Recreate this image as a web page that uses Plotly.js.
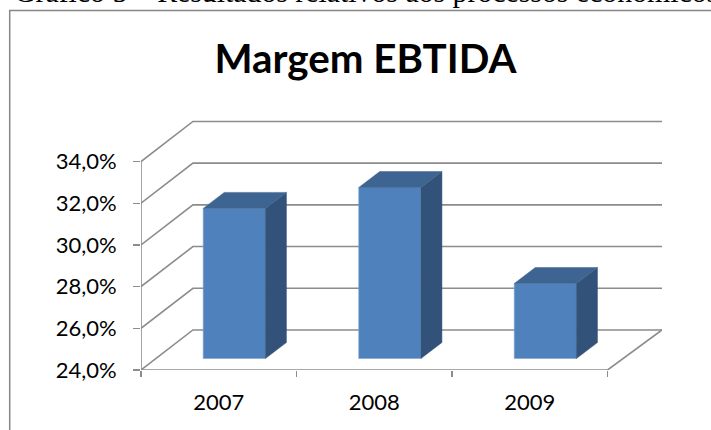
<!DOCTYPE html>
<html>
<head>
<meta charset="utf-8">
<script src="https://cdn.plot.ly/plotly-3.0.1.min.js"></script>
<style>html,body{margin:0;padding:0;background:#fff;overflow:hidden}#chart{width:711px;height:430px}</style>
</head>
<body>
<div id="chart"></div>
<script>
const categories = ['2007', '2008', '2009'];
const margin = [31.2, 32.2, 27.6];
const yTicks = [24, 26, 28, 30, 32, 34];
const yTickLabels = ['24,0%', '26,0%', '28,0%', '30,0%', '32,0%', '34,0%'];
const chartTitle = 'Margem EBTIDA';
const caption = 'Gráfico 5 – Resultados relativos aos processos econômicos';

const yBase = 24;
const xMax = 3.35, yMax = 36.374;
const wallDx = 0.334, wallDy = 1.92;   // oblique offset of the back wall
const barShiftX = 0.1, barLiftY = 0.55; // bar position on the floor
const barW = 0.4, depthX = 0.135, depthY = 0.767; // bar box dimensions
const gridCol = '#8c8c8c';
const plotH = 258, plotW = 521, marginT = 112, marginB = 60, marginL = 141;

const traces = [];
yTicks.forEach(v => {
  traces.push({x: [0, wallDx, xMax], y: [v, v + wallDy, v + wallDy], mode: 'lines',
    line: {color: gridCol, width: 1.6}, xaxis: 'x', yaxis: 'y', hoverinfo: 'skip', showlegend: false});
});
traces.push({x: [0, 0], y: [yBase, yTicks[yTicks.length - 1]], mode: 'lines',
  line: {color: gridCol, width: 1.6}, hoverinfo: 'skip', showlegend: false});
traces.push({x: [0, 3, xMax], y: [yBase, yBase, yBase + wallDy], mode: 'lines',
  line: {color: gridCol, width: 1.6}, hoverinfo: 'skip', showlegend: false});

const centers = categories.map((c, i) => i + 0.5 + barShiftX);
margin.forEach((v, i) => {
  const r = centers[i] + barW / 2, l = centers[i] - barW / 2;
  const b = yBase + barLiftY, t = v + barLiftY;
  traces.push({x: [r, r + depthX, r + depthX, r, r], y: [b, b + depthY, t + depthY, t, b],
    mode: 'lines', fill: 'toself', fillcolor: '#325279', line: {color: '#325279', width: 0.5},
    xaxis: 'x2', yaxis: 'y2', hoverinfo: 'skip', showlegend: false});
  traces.push({x: [l, l + depthX, r + depthX, r, l], y: [t, t + depthY, t + depthY, t, t],
    mode: 'lines', fill: 'toself', fillcolor: '#3e6491', line: {color: '#3e6491', width: 0.5},
    xaxis: 'x2', yaxis: 'y2', hoverinfo: 'skip', showlegend: false});
});
traces.push({type: 'bar', x: centers, y: margin.map(v => v - yBase), base: margin.map(() => yBase + barLiftY),
  width: barW, marker: {color: '#4f81bd', line: {color: '#7fa3d0', width: 0.6}},
  xaxis: 'x2', yaxis: 'y2', hoverinfo: 'skip', showlegend: false});

const font = 'Lato, "Noto Sans", sans-serif';
const pyFromTop = px => (plotH + marginT - px) / plotH;
const pxFromLeft = px => (px - marginL) / plotW;
const layout = {
  width: 711, height: 430, paper_bgcolor: '#fff', plot_bgcolor: 'rgba(0,0,0,0)',
  margin: {l: marginL, r: 49, t: marginT, b: marginB, pad: 0},
  showlegend: false,
  title: {text: '<b>' + chartTitle + '</b>', font: {family: font, size: 40.3, color: '#000'},
    x: 0.514, xanchor: 'center', xref: 'container', y: 0.862, yanchor: 'middle', yref: 'container'},
  xaxis: {domain: [0, 1], range: [0, xMax], tickmode: 'array', tickvals: [0, 1, 2, 3], ticktext: ['', '', '', ''],
    ticks: 'outside', ticklen: 6, tickwidth: 1.4, tickcolor: gridCol, showgrid: false, zeroline: false, showline: false, anchor: 'y'},
  yaxis: {domain: [0, 1], range: [yBase, yMax], tickmode: 'array', tickvals: yTicks, ticktext: yTickLabels,
    ticks: 'outside', ticklen: 7, tickwidth: 1.4, tickcolor: gridCol, showgrid: false, zeroline: false, showline: false,
    tickfont: {family: font, size: 22, color: '#000'}, ticklabelstandoff: 12, anchor: 'x'},
  xaxis2: {domain: [0, 1], overlaying: 'x', range: [0, xMax], anchor: 'y2', side: 'bottom', tickmode: 'array',
    tickvals: [0.5, 1.5, 2.5], ticktext: categories, ticks: '', ticklabelstandoff: 17,
    tickfont: {family: font, size: 22, color: '#000'}, showgrid: false, zeroline: false, showline: false},
  yaxis2: {domain: [0, 1], overlaying: 'y', range: [yBase, yMax], visible: false, anchor: 'x2'},
  shapes: [{type: 'path', xref: 'paper', yref: 'paper', layer: 'below',
    path: 'M ' + pxFromLeft(9.7) + ' -0.5 L ' + pxFromLeft(9.7) + ' ' + pyFromTop(10.5) + ' L 1.2 ' + pyFromTop(10.5),
    line: {color: '#868686', width: 1.5}}],
  annotations: [{text: caption, xref: 'paper', yref: 'paper', x: pxFromLeft(13), y: pyFromTop(9),
    xanchor: 'left', yanchor: 'bottom', showarrow: false, align: 'left', borderpad: 0,
    font: {family: '"Liberation Serif", serif', size: 29.8, color: '#000'}}]
};
Plotly.newPlot('chart', traces, layout, {displayModeBar: false, staticPlot: true});
</script>
</body>
</html>
